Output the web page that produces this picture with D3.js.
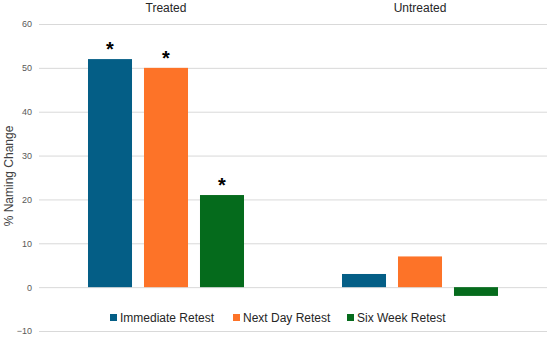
<!DOCTYPE html>
<html>
<head>
<meta charset="utf-8">
<script src="https://cdn.jsdelivr.net/npm/d3@7"></script>
<style>
  body { margin: 0; background: #fff; }
  svg { display: block; font-family: "Liberation Sans", Arial, sans-serif; }
  .grid line { stroke: #d9d9d9; stroke-width: 1; }
  .grid path { display: none; }
  .axis path, .axis line { display: none; }
  .axis text { fill: #595959; font-size: 9px; }
</style>
</head>
<body>
<div id="chart"></div>
<script>
// data
var groups = ["Treated", "Untreated"];
var series = ["Immediate Retest", "Next Day Retest", "Six Week Retest"];
var immediate = [52, 3];
var nextDay = [50, 7];
var sixWeek = [21, -2];
var significant = [[true, true, true], [false, false, false]];
var yTicks = [-10, 0, 10, 20, 30, 40, 50, 60];
var colors = ["#045E86", "#FD7328", "#056B1C"];

var values = [immediate, nextDay, sixWeek];

var width = 550, height = 338;
var margin = {top: 24, right: 3, bottom: 7, left: 39};

var svg = d3.select("#chart").append("svg")
  .attr("width", width).attr("height", height);

var x0 = d3.scaleBand().domain(groups).range([margin.left, width - margin.right]);
var x1 = d3.scaleBand().domain(series).range([0, x0.bandwidth()])
  .paddingInner(0.214).paddingOuter(0.875);
var y = d3.scaleLinear().domain([-10, 60]).range([height - margin.bottom, margin.top]);

// gridlines
svg.append("g").attr("class", "grid")
  .attr("transform", "translate(" + margin.left + ",0)")
  .call(d3.axisLeft(y).tickValues(yTicks).tickSizeInner(-(width - margin.left - margin.right)).tickFormat(""));

// y axis labels
svg.append("g").attr("class", "axis")
  .attr("transform", "translate(" + (margin.left - 7) + ",0)")
  .call(d3.axisLeft(y).tickValues(yTicks).tickSize(0).tickPadding(0));

svg.append("text")
  .attr("transform", "translate(13," + 176 + ") rotate(-90)")
  .attr("text-anchor", "middle")
  .attr("fill", "#404040").attr("font-size", "12px")
  .text("% Naming Change");

// group labels on top
svg.selectAll(".glabel").data(groups).enter().append("text")
  .attr("x", function(d) { return x0(d) + x0.bandwidth() / 2; })
  .attr("y", 12)
  .attr("text-anchor", "middle")
  .attr("fill", "#262626").attr("font-size", "12px")
  .text(function(d) { return d; });

// bars
var g = svg.selectAll(".group").data(groups).enter().append("g")
  .attr("transform", function(d) { return "translate(" + x0(d) + ",0)"; });

g.selectAll("rect").data(function(d, gi) {
    return series.map(function(s, si) { return {s: s, si: si, gi: gi, v: values[si][gi]}; });
  }).enter().append("rect")
  .attr("x", function(d) { return x1(d.s); })
  .attr("width", x1.bandwidth())
  .attr("y", function(d) { return y(Math.max(0, d.v)); })
  .attr("height", function(d) { return Math.abs(y(d.v) - y(0)); })
  .attr("fill", function(d) { return colors[d.si]; });

// asterisks
g.selectAll(".star").data(function(d, gi) {
    return series.map(function(s, si) { return {s: s, si: si, gi: gi, v: values[si][gi]}; })
      .filter(function(d) { return significant[d.gi][d.si]; });
  }).enter().append("text")
  .attr("x", function(d) { return x1(d.s) + x1.bandwidth() / 2; })
  .attr("y", function(d) { return y(d.v) - 3; })
  .attr("text-anchor", "middle")
  .attr("font-size", "20px").attr("font-weight", "bold").attr("fill", "#000")
  .text("*");

// legend
var legendX = [110, 233, 347];
var lg = svg.selectAll(".legend").data(series).enter().append("g")
  .attr("transform", function(d, i) { return "translate(" + legendX[i] + ",318)"; });
lg.append("rect").attr("x", 0).attr("y", -4).attr("width", 7).attr("height", 7)
  .attr("fill", function(d, i) { return colors[i]; });
lg.append("text").attr("x", 10).attr("y", 4)
  .attr("fill", "#262626").attr("font-size", "12px")
  .text(function(d) { return d; });
</script>
</body>
</html>
